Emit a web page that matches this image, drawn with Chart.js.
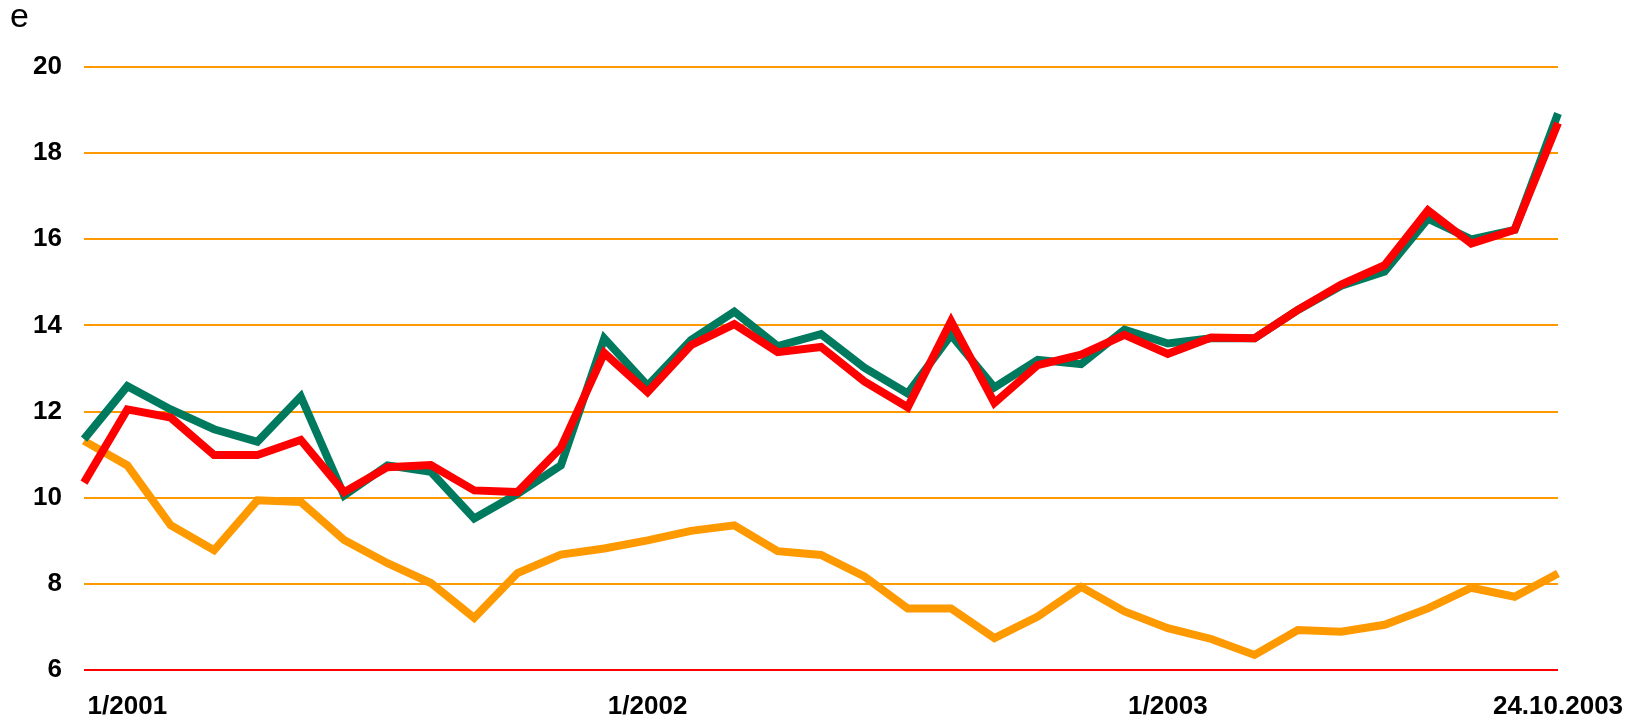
<!DOCTYPE html>
<html>
<head>
<meta charset="utf-8">
<script src="https://cdn.jsdelivr.net/npm/chart.js@4/dist/chart.umd.min.js"></script>
<style>
html,body{margin:0;padding:0;background:#fff;}
#wrap{width:1637px;height:718px;}
</style>
</head>
<body>
<div id="wrap"><canvas id="c" width="1637" height="718"></canvas></div>
<script>
const categories = ['12/2000','1/2001','2/2001','3/2001','4/2001','5/2001','6/2001','7/2001','8/2001','9/2001','10/2001','11/2001','12/2001',
  '1/2002','2/2002','3/2002','4/2002','5/2002','6/2002','7/2002','8/2002','9/2002','10/2002','11/2002','12/2002',
  '1/2003','2/2003','3/2003','4/2003','5/2003','6/2003','7/2003','8/2003','9/2003','24.10.2003'];
const tickLabels = ['1/2001','1/2002','1/2003','24.10.2003'];
const yTicks = [6, 8, 10, 12, 14, 16, 18, 20];
const unitLabel = 'e';

const seriesGreen = [11.36,12.59,12.05,11.59,11.3,12.35,10.05,10.75,10.6,9.52,10.09,10.75,13.7,12.6,13.66,14.32,13.52,13.8,13.02,12.42,13.78,12.56,13.2,13.1,13.9,13.58,13.7,13.7,14.36,14.92,15.25,16.48,16.0,16.22,18.92];
const seriesRed = [10.35,12.05,11.86,10.99,10.99,11.34,10.13,10.71,10.76,10.17,10.13,11.16,13.36,12.45,13.54,14.03,13.38,13.5,12.7,12.1,14.1,12.2,13.08,13.32,13.78,13.34,13.72,13.7,14.36,14.95,15.4,16.67,15.9,16.22,18.7];
const seriesOrange = [11.32,10.75,9.36,8.78,9.94,9.9,9.02,8.48,8.02,7.21,8.25,8.68,8.82,9.01,9.23,9.36,8.76,8.67,8.17,7.43,7.43,6.74,7.24,7.93,7.36,6.97,6.72,6.35,6.93,6.89,7.05,7.43,7.91,7.70,8.24];

const unitPlugin = {
  id: 'unitLabel',
  afterDraw(chart) {
    const ctx = chart.ctx;
    ctx.save();
    ctx.fillStyle = '#000';
    ctx.font = '34px "Liberation Sans", Arial, sans-serif';
    ctx.textBaseline = 'alphabetic';
    ctx.textAlign = 'left';
    ctx.fillText(unitLabel, 10, 27);
    ctx.restore();
  }
};

const lineStyle = (color) => ({
  borderColor: color, backgroundColor: color, borderWidth: 8,
  pointRadius: 0, tension: 0, fill: false,
  borderJoinStyle: 'miter', borderCapStyle: 'butt'
});

new Chart(document.getElementById('c'), {
  type: 'line',
  data: {
    labels: categories,
    datasets: [
      Object.assign({ label: 'red', data: seriesRed, order: 1 }, lineStyle('#FF0000')),
      Object.assign({ label: 'green', data: seriesGreen, order: 2 }, lineStyle('#007A5E')),
      Object.assign({ label: 'orange', data: seriesOrange, order: 3 }, lineStyle('#FF9900'))
    ]
  },
  options: {
    responsive: false,
    animation: false,
    layout: { padding: { left: 0, right: 79, top: 67, bottom: 0 } },
    plugins: { legend: { display: false }, tooltip: { enabled: false }, title: { display: false } },
    scales: {
      x: {
        type: 'category',
        offset: false,
        grid: { display: false, drawTicks: false },
        border: { display: false },
        ticks: {
          autoSkip: false, maxRotation: 0, minRotation: 0, padding: 21,
          color: '#000',
          font: { family: '"Liberation Sans", Arial, sans-serif', size: 26, weight: 'bold' },
          callback: function(v, i) { const l = categories[i]; return tickLabels.includes(l) ? l : ''; }
        },
        afterFit: (s) => { s.height = 48; s.paddingRight = 0; s.paddingLeft = 0; }
      },
      y: {
        min: 6, max: 20,
        afterBuildTicks: (s) => { s.ticks = yTicks.map(v => ({ value: v })); },
        grid: {
          drawTicks: false,
          lineWidth: 2,
          color: (c) => (c.tick && c.tick.value === 6) ? '#FF0000' : '#FF9900'
        },
        border: { display: false },
        ticks: {
          padding: 22, color: '#000',
          font: { family: '"Liberation Sans", Arial, sans-serif', size: 26, weight: 'bold' }
        },
        afterFit: (s) => { s.width = 84; s.paddingTop = 0; s.paddingBottom = 0; }
      }
    }
  },
  plugins: [unitPlugin]
});
</script>
</body>
</html>
